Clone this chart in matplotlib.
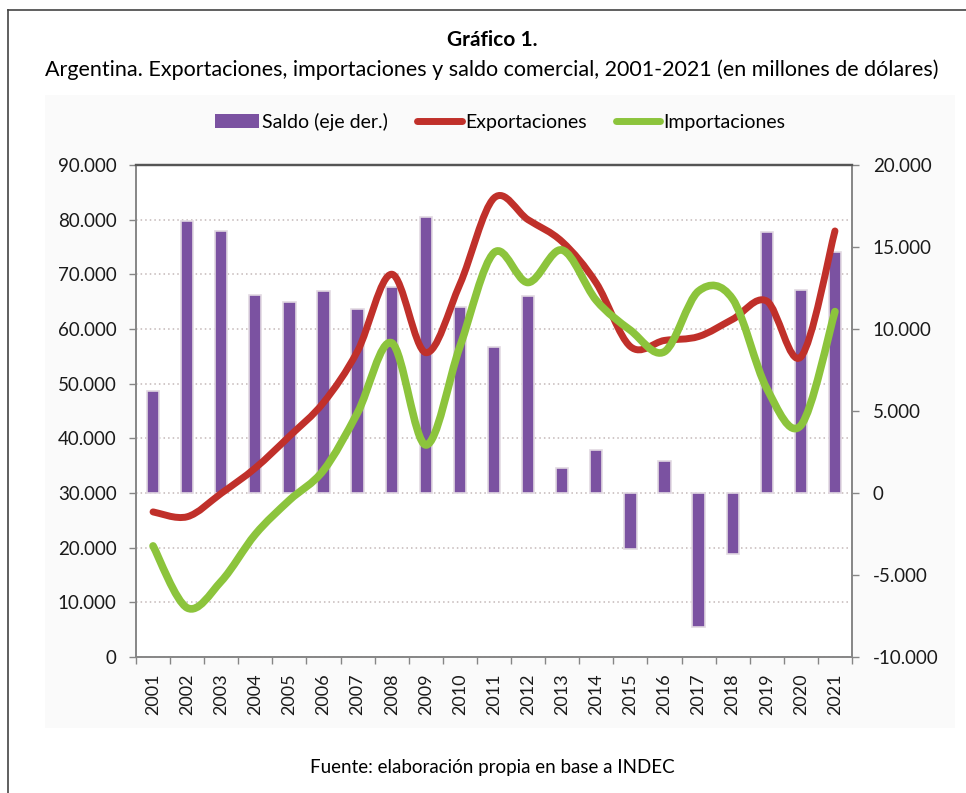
import matplotlib
matplotlib.use("Agg")
import matplotlib.pyplot as plt
from matplotlib.path import Path
from matplotlib.patches import PathPatch, Patch, Rectangle
from matplotlib.lines import Line2D
from matplotlib.ticker import FuncFormatter, FixedLocator

# datos (millones de dólares)
years = [str(y) for y in range(2001, 2022)]
exportaciones = [26543, 25651, 29939, 34576, 40387, 46546, 55980, 70019, 55672, 68187, 83950,
                 79982, 75963, 68405, 56788, 57909, 58622, 61782, 65114, 54884, 77934]
importaciones = [20320, 8990, 13851, 22445, 28687, 34154, 44707, 57462, 38786, 56793, 73961,
                 68508, 74442, 65229, 59787, 55852, 66938, 65483, 49125, 42356, 63184]
saldo = [6200, 16600, 16000, 12100, 11650, 12300, 11200, 12550, 16850, 11350, 8900,
         12000, 1500, 2600, -3400, 1950, -8200, -3700, 15900, 12400, 14700]

plt.rcParams['font.family'] = ['Lato', 'DejaVu Sans']

C_SALDO = '#7b52a1'
C_EXP = '#c0302a'
C_IMP = '#8cc43c'


def miles(v, pos=None):
    return f"{int(round(v)):,}".replace(",", ".")


def smooth_path(xs, ys):
    # curva suavizada tipo Excel (Bezier cúbica por los puntos)
    n = len(xs)
    verts = [(xs[0], ys[0])]
    codes = [Path.MOVETO]
    for i in range(n - 1):
        a = i - 1 if i > 0 else i
        d = i + 2 if i + 2 < n else i + 1
        c1 = (xs[i] + (xs[i + 1] - xs[a]) / 6, ys[i] + (ys[i + 1] - ys[a]) / 6)
        c2 = (xs[i + 1] - (xs[d] - xs[i]) / 6, ys[i + 1] - (ys[d] - ys[i]) / 6)
        verts += [c1, c2, (xs[i + 1], ys[i + 1])]
        codes += [Path.CURVE4] * 3
    return Path(verts, codes)


fig = plt.figure(figsize=(9.66, 7.93), dpi=100)
W, H = 966, 793

# marco exterior y fondo del área del gráfico
fig.add_artist(Line2D([8 / W, 8 / W], [0, 1 - 10 / H], color='#444444', lw=1.2))
fig.add_artist(Line2D([8 / W, 1], [1 - 10 / H, 1 - 10 / H], color='#444444', lw=1.2))
fig.add_artist(Rectangle((45 / W, 1 - 728 / H), 910 / W, 633 / H, transform=fig.transFigure,
                         facecolor='#fafafa', edgecolor='none', zorder=-5))

x = list(range(len(years)))

ax1 = fig.add_axes([136 / W, 1 - 657 / H, 716 / W, 492 / H])
ax1.set_zorder(0)
ax1.set_facecolor('white')
ax1.set_xlim(-0.5, len(years) - 0.5)
ax1.set_ylim(0, 90000)
ax1.yaxis.set_major_locator(FixedLocator(range(0, 90001, 10000)))
ax1.yaxis.set_major_formatter(FuncFormatter(miles))
ax1.grid(axis='y', color='#c4b8b8', linestyle=(0, (1, 2)), lw=1.1)
ax1.set_axisbelow(True)

# eje derecho: saldo en barras
ax2 = ax1.twinx()
ax2.set_zorder(1)
ax2.patch.set_visible(False)
ax2.set_ylim(-10000, 20000)
ax2.yaxis.set_major_locator(FixedLocator(range(-10000, 20001, 5000)))
ax2.yaxis.set_major_formatter(FuncFormatter(miles))
ax2.bar(x, saldo, width=0.36, color=C_SALDO, edgecolor='#e2d9e2', linewidth=1.2)

# líneas sobre las barras
ax3 = ax1.twinx()
ax3.set_zorder(2)
ax3.patch.set_visible(False)
ax3.set_ylim(0, 90000)
ax3.set_yticks([])
for sp in ax3.spines.values():
    sp.set_visible(False)
ax3.add_patch(PathPatch(smooth_path(x, exportaciones), fill=False, edgecolor=C_EXP,
                        lw=5.0, capstyle='round', joinstyle='round'))
ax3.add_patch(PathPatch(smooth_path(x, importaciones), fill=False, edgecolor=C_IMP,
                        lw=5.5, capstyle='round', joinstyle='round'))

# ejes y marcas
for ax in (ax1, ax2):
    for name, sp in ax.spines.items():
        sp.set_color('#868686')
        sp.set_linewidth(1.2)
    ax.spines['top'].set_color('#555555')
    ax.spines['top'].set_linewidth(1.6)
ax1.tick_params(axis='y', direction='out', length=5, width=1, color='#868686',
                pad=9, labelsize=13.5, labelcolor='#1a1a1a')
ax2.tick_params(axis='y', direction='out', length=5, width=1, color='#868686',
                pad=10, labelsize=13.5, labelcolor='#1a1a1a')
ax1.set_xticks(x)
ax1.set_xticklabels(years, rotation=90)
ax1.set_xticks([i - 0.5 for i in range(len(years) + 1)], minor=True)
ax1.tick_params(axis='x', which='major', length=0, pad=12, labelsize=13, labelcolor='#1a1a1a')
ax1.tick_params(axis='x', which='minor', direction='out', length=5, width=1, color='#868686')
ax2.tick_params(axis='x', which='both', length=0)

# leyenda
handles = [Patch(facecolor=C_SALDO, edgecolor='none'),
           Line2D([], [], color=C_EXP, lw=5, solid_capstyle='round'),
           Line2D([], [], color=C_IMP, lw=5, solid_capstyle='round')]
labels = ['Saldo (eje der.)', 'Exportaciones', 'Importaciones']
fig.legend(handles, labels, loc='center', bbox_to_anchor=(500 / W, 1 - 122 / H), ncol=3,
           frameon=False, handlelength=2.3, handletextpad=0.15, columnspacing=1.5,
           fontsize=14)

# textos
fig.text(492 / W, 1 - 40 / H, 'Gráfico 1.', ha='center', va='center', fontsize=15,
         fontweight='bold')
fig.text(492 / W, 1 - 70 / H,
         'Argentina. Exportaciones, importaciones y saldo comercial, 2001-2021 (en millones de dólares)',
         ha='center', va='center', fontsize=15.5)
fig.text(492 / W, 1 - 767 / H, 'Fuente: elaboración propia en base a INDEC',
         ha='center', va='center', fontsize=13.5)

fig.savefig('out.png', dpi=100)
